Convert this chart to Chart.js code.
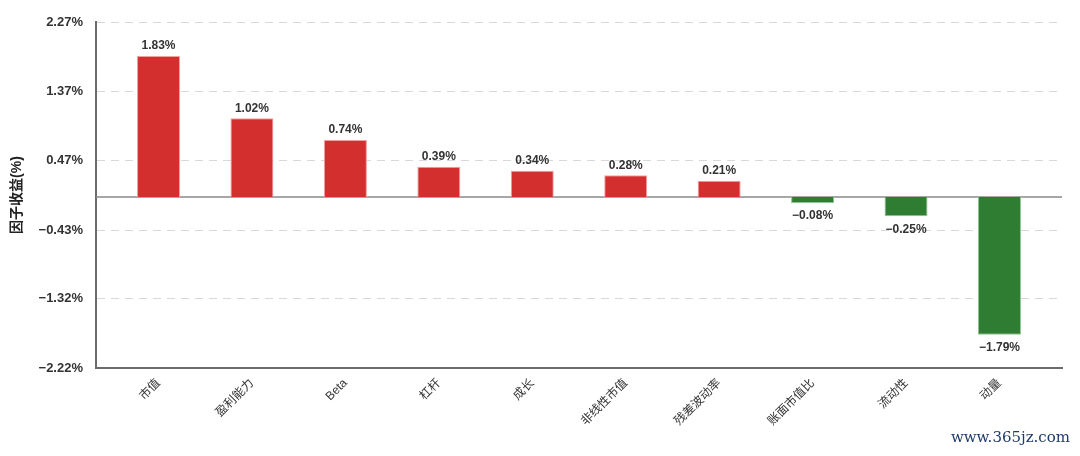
<!DOCTYPE html>
<html>
<head>
<meta charset="utf-8">
<script src="https://cdn.jsdelivr.net/npm/chart.js@4"></script>
<style>
  html, body { margin: 0; padding: 0; background: #fff; }
  #wrap { position: relative; width: 1080px; height: 456px; }
  #mark { position: absolute; right: 10px; top: 428px; font: 15px "DejaVu Serif", serif; color: #1f3b6e; }
</style>
</head>
<body>
<div id="wrap">
  <canvas id="factor-chart" width="1080" height="456"></canvas>
  <div id="mark">www.365jz.com</div>
</div>
<script>
var factors = ['市值', '盈利能力', 'Beta', '杠杆', '成长', '非线性市值', '残差波动率', '账面市值比', '流动性', '动量'];
var returns = [1.83, 1.02, 0.74, 0.39, 0.34, 0.28, 0.21, -0.08, -0.25, -1.79];
var yTicks = [2.27, 1.37, 0.47, -0.43, -1.32, -2.22];

var points = [];
for (var i = 0; i < returns.length; i++) {
    points.push({x: i, y: returns[i]});
}

var fontFamily = '"Liberation Sans", "Noto Sans CJK SC", sans-serif';

// labels above / below bars, plus the solid zero line
var barLabels = {
    id: 'barLabels',
    beforeDatasetsDraw: function(chart) {
        var ctx = chart.ctx, area = chart.chartArea;
        var y0 = chart.scales.y.getPixelForValue(0);
        ctx.save();
        ctx.strokeStyle = '#8a8a8a';
        ctx.lineWidth = 1.5;
        ctx.beginPath();
        ctx.moveTo(area.left, y0);
        ctx.lineTo(area.right, y0);
        ctx.stroke();
        ctx.restore();
    },
    afterDatasetsDraw: function(chart) {
        var ctx = chart.ctx;
        var meta = chart.getDatasetMeta(0);
        ctx.save();
        ctx.font = 'bold 12px ' + fontFamily;
        ctx.fillStyle = '#333';
        ctx.textAlign = 'center';
        meta.data.forEach(function(bar, i) {
            var v = returns[i];
            var txt = (v < 0 ? '\u2212' : '') + Math.abs(v).toFixed(2) + '%';
            if (v >= 0) {
                ctx.textBaseline = 'bottom';
                ctx.fillText(txt, bar.x, bar.y - 4);
            } else {
                ctx.textBaseline = 'top';
                ctx.fillText(txt, bar.x, bar.y + 7);
            }
        });
        ctx.restore();
    }
};

new Chart(document.getElementById('factor-chart'), {
    type: 'bar',
    data: {
        datasets: [{
            data: points,
            backgroundColor: returns.map(function(v) { return v >= 0 ? '#d32f2f' : '#2e7d32'; }),
            borderColor: returns.map(function(v) { return v >= 0 ? '#f2a0a0' : '#8fc48f'; }),
            borderWidth: 1,
            barPercentage: 0.46,
            categoryPercentage: 1
        }]
    },
    options: {
        responsive: false,
        animation: false,
        layout: { padding: { top: 22, right: 18, left: 0, bottom: 0 } },
        plugins: { legend: { display: false }, tooltip: { enabled: false } },
        scales: {
            x: {
                type: 'linear',
                offset: false,
                min: -0.669,
                max: 9.669,
                afterBuildTicks: function(scale) {
                    scale.ticks = factors.map(function(f, i) { return {value: i}; });
                },
                afterFit: function(scale) { scale.height = 88; },
                grid: { display: false, offset: false },
                border: { display: true, color: '#6b6b6b', width: 2 },
                ticks: {
                    autoSkip: false,
                    maxRotation: 45,
                    minRotation: 45,
                    padding: 0,
                    color: '#333',
                    font: { size: 12, family: fontFamily },
                    callback: function(value) { return factors[value]; }
                }
            },
            y: {
                min: -2.22,
                max: 2.27,
                afterBuildTicks: function(scale) {
                    scale.ticks = yTicks.map(function(t) { return {value: t}; });
                },
                afterFit: function(scale) { scale.width = 96; },
                grid: { color: '#d8d8d8', lineWidth: 1, drawTicks: false },
                border: { display: true, color: '#6b6b6b', width: 2, dash: [8, 6] },
                ticks: {
                    padding: 13,
                    color: '#333',
                    font: { size: 13, weight: 'bold', family: fontFamily },
                    callback: function(value) {
                        return (value < 0 ? '\u2212' : '') + Math.abs(value).toFixed(2) + '%';
                    }
                },
                title: {
                    display: true,
                    text: '因子收益(%)',
                    color: '#222',
                    padding: { top: 9, bottom: 0 },
                    font: { size: 14, weight: 'bold', family: fontFamily }
                }
            }
        }
    },
    plugins: [barLabels]
});
</script>
</body>
</html>
